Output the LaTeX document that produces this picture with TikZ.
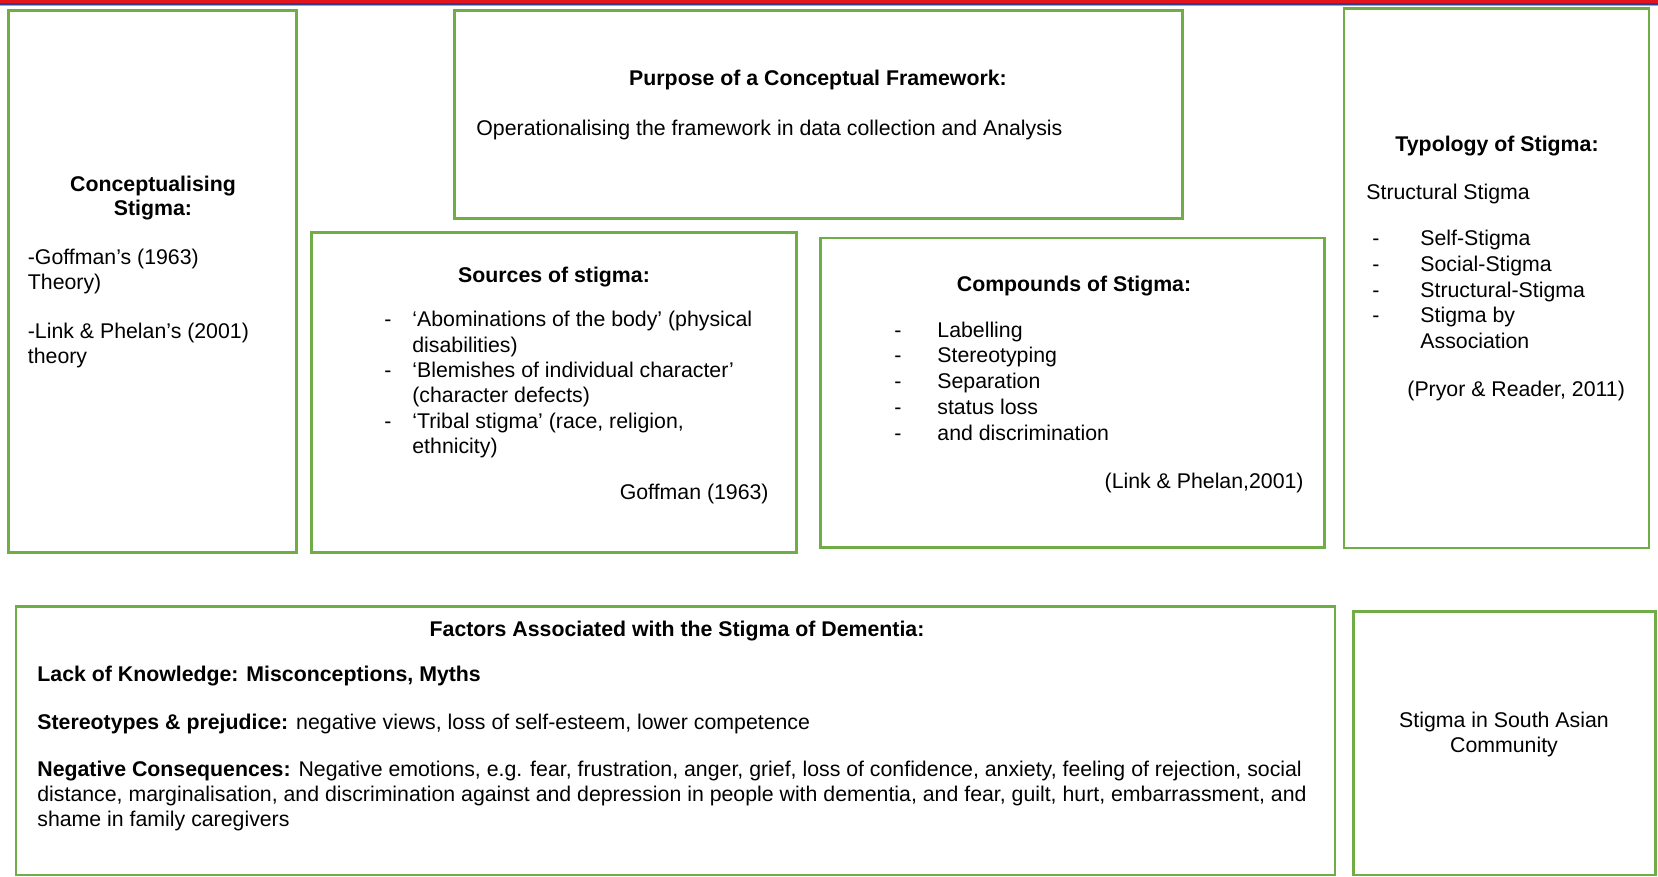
\documentclass[tikz,border=0pt]{standalone}
\usepackage{fontspec}
\setmainfont{Liberation Sans}
\usetikzlibrary{fit}
\definecolor{boxgreen}{HTML}{70AD47}
\definecolor{barred}{HTML}{E3141E}
\definecolor{barblue}{HTML}{2B3F91}
\definecolor{barlight}{HTML}{8FA8D8}
\begin{document}
\begin{tikzpicture}[x=0.5pt,y=-0.5pt,
  box/.style={draw=boxgreen, line width=1.4pt, inner sep=0pt},
  t/.style={inner sep=0pt, anchor=base west, font=\fontsize{10.65}{12.6}\selectfont},
  tc/.style={t, anchor=base},
  tr/.style={t, anchor=base east},
  hd/.style={inner sep=0pt, anchor=base, font=\fontsize{10.65}{12.6}\selectfont\bfseries}]
\useasboundingbox (0,0) rectangle (1658,877);
% top bar
\fill[barred] (0,0) rectangle (1658,3);
\fill[barblue] (0,3) rectangle (1658,4.6);
\fill[barlight] (0,4.6) rectangle (1658,5.6);

% boxes
\node[box, fit={(8.7,10.5) (296.7,552.5)}] (b1) {};
\node[box, fit={(454.5,10.5) (1182.5,218.3)}] (bp) {};
\node[box, fit={(311.5,232.7) (796.7,552.5)}] (bs) {};
\node[box, fit={(820.7,238) (1324.2,547.8)}] (bc) {};
\node[box, fit={(1344,8.5) (1649,548)}] (bt) {};
\node[box, fit={(16,606.5) (1335,875)}] (bf) {};
\node[box, fit={(1353.3,611.7) (1655.5,875)}] (bsa) {};

% Conceptualising Stigma
\node[hd] (c1) at (153,192) {Conceptualising};
\node[hd] (c2) at (153,216) {Stigma:};
\node[t] (c3) at (27.5,264) {-Goffman’s (1963)};
\node[t] (c4) at (27.5,289) {Theory)};
\node[t] (c5) at (27.5,338) {-Link \& Phelan’s (2001)};
\node[t] (c6) at (27.5,363) {theory};

% Purpose
\node[hd] (p1) at (818,86) {Purpose of a Conceptual Framework:};
\node[t] (p2) at (476,136) {Operationalising the framework in data collection and Analysis};

% Sources
\node[hd] (s0) at (554,282) {Sources of stigma:};
\node[t] (sd1) at (384,326) {-};
\node[t] (s1) at (412,326) {‘Abominations of the body’ (physical};
\node[t] (s2) at (412,352) {disabilities)};
\node[t] (sd2) at (384,377) {-};
\node[t] (s3) at (412,377) {‘Blemishes of individual character’};
\node[t] (s4) at (412,402.5) {(character defects)};
\node[t] (sd3) at (384,428) {-};
\node[t] (s5) at (412,428) {‘Tribal stigma’ (race, religion,};
\node[t] (s6) at (412,453) {ethnicity)};
\node[tr] (s7) at (769,499) {Goffman (1963)};

% Compounds
\node[hd] (k0) at (1074,291.5) {Compounds of Stigma:};
\node[t] (kd1) at (894,337) {-};
\node[t] (k1) at (937,337) {Labelling};
\node[t] (kd2) at (894,362) {-};
\node[t] (k2) at (937,362) {Stereotyping};
\node[t] (kd3) at (894,388) {-};
\node[t] (k3) at (937,388) {Separation};
\node[t] (kd4) at (894,414) {-};
\node[t] (k4) at (937,414) {status loss};
\node[t] (kd5) at (894,440.6) {-};
\node[t] (k5) at (937,440.6) {and discrimination};
\node[tr] (k6) at (1304,488) {(Link \& Phelan,2001)};

% Typology
\node[hd] (y0) at (1497,152) {Typology of Stigma:};
\node[t] (y1) at (1366,199.5) {Structural Stigma};
\node[t] (yd1) at (1372,246) {-};
\node[t] (y2) at (1420,246) {Self-Stigma};
\node[t] (yd2) at (1372,271) {-};
\node[t] (y3) at (1420,271) {Social-Stigma};
\node[t] (yd3) at (1372,297) {-};
\node[t] (y4) at (1420,297) {Structural-Stigma};
\node[t] (yd4) at (1372,322) {-};
\node[t] (y5) at (1420,322) {Stigma by};
\node[t] (y6) at (1420,348) {Association};
\node[t] (y7) at (1407,396) {(Pryor \& Reader, 2011)};

% Factors
\node[hd] (f0) at (677,636) {Factors Associated with the Stigma of Dementia:};
\node[t] (f1) at (37,681.7) {\bfseries Lack of Knowledge: Misconceptions, Myths};
\node[t] (f2) at (37,729) {\textbf{Stereotypes \& prejudice:} negative views, loss of self-esteem, lower competence};
\node[t] (f3) at (37,776) {\textbf{Negative Consequences:} Negative emotions, e.g. fear, frustration, anger, grief, loss of confidence, anxiety, feeling of rejection, social};
\node[t] (f4) at (37,801) {distance, marginalisation, and discrimination against and depression in people with dementia, and fear, guilt, hurt, embarrassment, and};
\node[t] (f5) at (37,826.5) {shame in family caregivers};

% South Asian
\node[tc] (sa1) at (1504,727) {Stigma in South Asian};
\node[tc] (sa2) at (1504,752.5) {Community};
\end{tikzpicture}
\end{document}
